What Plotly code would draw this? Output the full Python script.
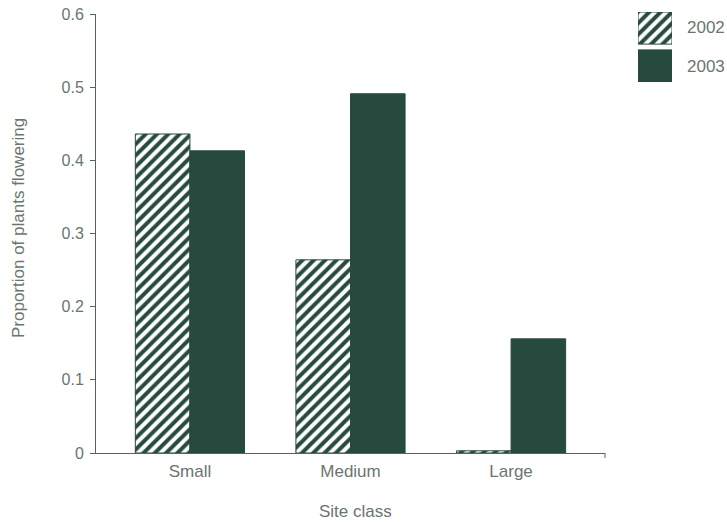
import plotly.graph_objects as go

# Flowering data by site class
site_classes = ["Small", "Medium", "Large"]
years = ["2002", "2003"]
flowering_2002 = [0.436, 0.264, 0.003]
flowering_2003 = [0.413, 0.491, 0.156]
y_ticks = [0, 0.1, 0.2, 0.3, 0.4, 0.5, 0.6]

DARK = "#274a3f"
TEXT = "#6a756f"
AXIS = "#55645d"
FONT = "Liberation Sans, Arial, sans-serif"

W, H = 727, 524
ML, MR, MT, MB = 96, 10, 10, 71
PW, PH = W - ML - MR, H - MT - MB


def px_x(p):
    return (p - ML) / PW


def px_y(p):
    return (H - MB - p) / PH


hatch = dict(shape="/", fgcolor=DARK, fgopacity=1, bgcolor="white",
             size=8, solidity=0.5)

fig = go.Figure()
fig.add_trace(go.Bar(
    x=site_classes, y=flowering_2002, name=years[0],
    marker=dict(color="white", pattern=hatch, line=dict(color=DARK, width=1)),
))
fig.add_trace(go.Bar(
    x=site_classes, y=flowering_2003, name=years[1],
    marker=dict(color=DARK, line=dict(color=DARK, width=1)),
))

# Key swatches drawn as bars on a small inset axis
fig.add_trace(go.Bar(
    x=[0], y=[1], base=[1.18], width=[1], offset=0, xaxis="x2", yaxis="y2",
    marker=dict(color="white", pattern=hatch, line=dict(color=DARK, width=1)),
    hoverinfo="skip",
))
fig.add_trace(go.Bar(
    x=[0], y=[1], base=[0], width=[1], offset=0, xaxis="x2", yaxis="y2",
    marker=dict(color=DARK, line=dict(color=DARK, width=1)),
    hoverinfo="skip",
))

fig.update_layout(
    width=W, height=H,
    margin=dict(l=ML, r=MR, t=MT, b=MB, pad=0, autoexpand=False),
    paper_bgcolor="white", plot_bgcolor="white",
    showlegend=False,
    barmode="group", bargap=0.32, bargroupgap=0,
    font=dict(family=FONT, color=TEXT, size=17),
    xaxis=dict(
        domain=[0, px_x(605)],
        range=[-0.585, 2.585],
        showline=True, linecolor=AXIS, linewidth=1,
        ticks="", showgrid=False, zeroline=False,
        tickfont=dict(size=17, color=TEXT),
        ticklabelstandoff=3, automargin=False,
    ),
    yaxis=dict(
        domain=[0, px_y(14)],
        range=[0, 0.6],
        tickvals=y_ticks,
        showline=True, linecolor=AXIS, linewidth=1,
        ticks="outside", ticklen=5, tickcolor=AXIS,
        showgrid=False, zeroline=False,
        tickfont=dict(size=16, color=TEXT),
        ticklabelstandoff=3, automargin=False,
    ),
    xaxis2=dict(
        domain=[px_x(638), px_x(672)], range=[0, 1], anchor="y2",
        visible=False, fixedrange=True, automargin=False,
    ),
    yaxis2=dict(
        domain=[px_y(82), px_y(12)], range=[0, 2.18], anchor="x2",
        visible=False, fixedrange=True, automargin=False,
    ),
)

# Axis titles
fig.add_annotation(
    text="Site class", x=px_x(355), y=px_y(511), xref="paper", yref="paper",
    showarrow=False, font=dict(size=17, color=TEXT), xanchor="center", yanchor="middle",
)
fig.add_annotation(
    text="Proportion of plants flowering", x=px_x(18), y=px_y(228),
    xref="paper", yref="paper", textangle=-90,
    showarrow=False, font=dict(size=17, color=TEXT), xanchor="center", yanchor="middle",
)

# Key labels
for label, ypix in zip(years, [28, 66]):
    fig.add_annotation(
        text=label, x=px_x(685), y=px_y(ypix), xref="paper", yref="paper",
        showarrow=False, font=dict(size=17, color=TEXT), xanchor="left", yanchor="middle",
    )

# Small end mark on the category axis
fig.add_shape(
    type="line", xref="paper", yref="paper",
    x0=px_x(605), x1=px_x(605), y0=px_y(453), y1=px_y(458),
    line=dict(color=AXIS, width=1),
)

fig.write_html("out.html")
